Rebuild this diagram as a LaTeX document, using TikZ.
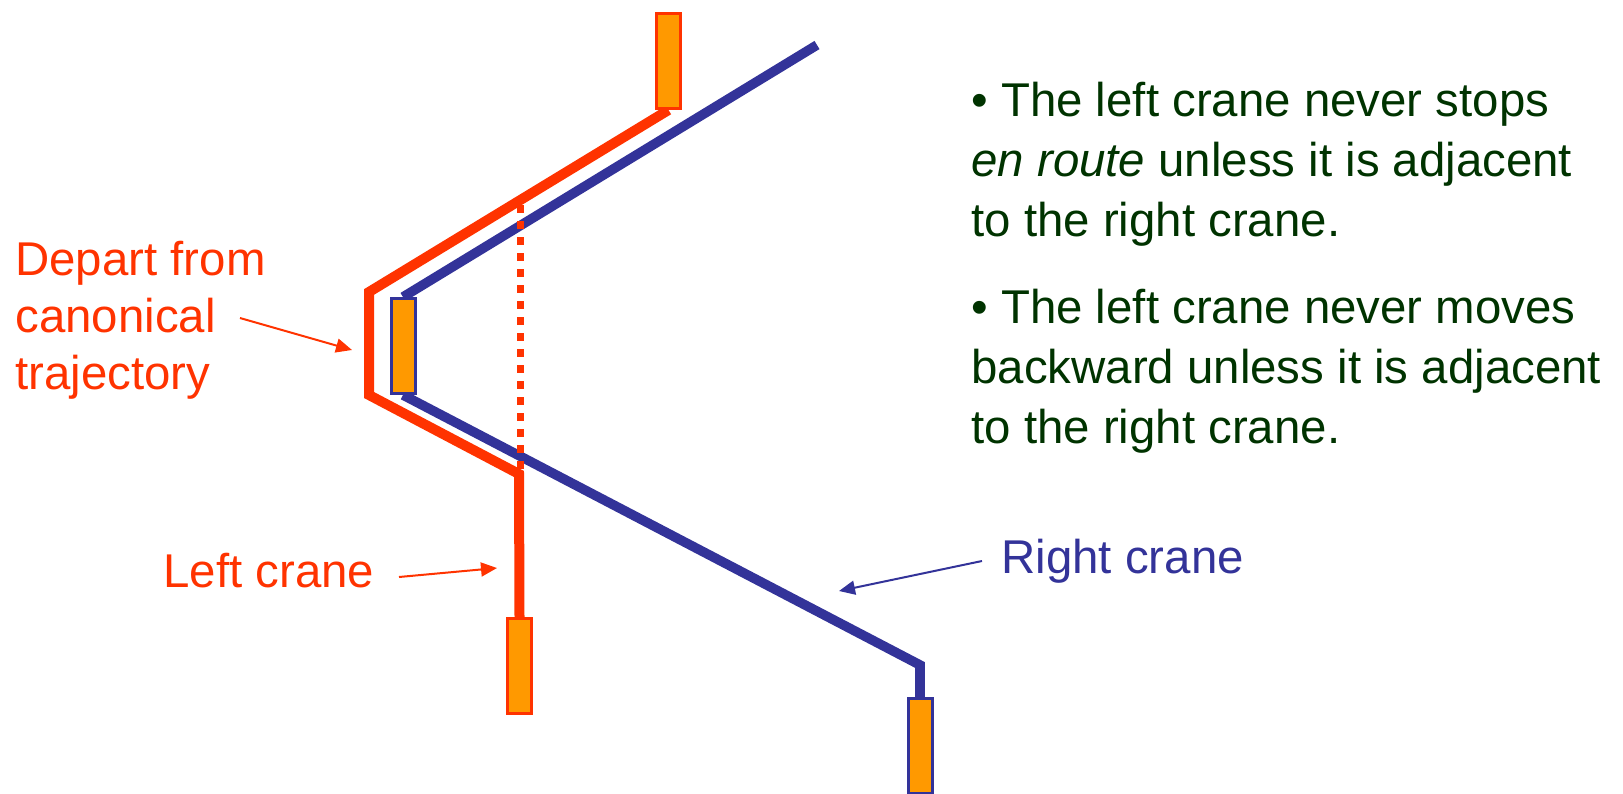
\documentclass[tikz,border=0pt]{standalone}
\usepackage{fontspec}
\setmainfont{Liberation Sans}
\usepackage{tikz}
\usepackage{xcolor}
\usetikzlibrary{arrows.meta, positioning, calc}
\definecolor{CraneRed}{HTML}{FF3300}
\definecolor{CraneBlue}{HTML}{333399}
\definecolor{CraneOrange}{HTML}{FF9900}
\definecolor{RuleGreen}{HTML}{003300}
\tikzset{
    % Trolley boxes - orange with coloured outline
    redtrolley/.style={
        rectangle,
        draw=CraneRed,
        fill=CraneOrange,
        line width=1.5pt,
        minimum width=12pt,
        minimum height=47.5pt,
        inner sep=0pt
    },
    bluetrolley/.style={
        redtrolley,
        draw=CraneBlue
    },
    % Trajectory styles
    redpath/.style={
        draw=CraneRed,
        line width=5pt
    },
    bluepath/.style={
        draw=CraneBlue,
        line width=4.8pt
    },
    gapline/.style={
        draw=CraneRed,
        line width=3.5pt,
        dash pattern=on 4pt off 4pt
    },
    % Label arrows
    redptr/.style={
        -{Triangle[length=8pt,width=7pt]},
        CraneRed,
        line width=1pt
    },
    blueptr/.style={
        -{Triangle[length=8pt,width=7pt]},
        CraneBlue,
        line width=1pt
    },
    % Text styles
    labeltext/.style={
        inner sep=0pt,
        align=left,
        font=\fontsize{23.7}{28.5}\selectfont
    },
    ruletext/.style={
        labeltext,
        text=RuleGreen,
        font=\fontsize{23.7}{30}\selectfont
    }
}
\begin{document}
\begin{tikzpicture}[x=0.5pt, y=-0.5pt]
                \useasboundingbox (0,0) rectangle (1623,793);

                % Bend points of both trajectories
                \coordinate (lc-b1) at (369,292);
                \coordinate (lc-b2) at (369,395);
                \coordinate (lc-b3) at (519,474);
                \coordinate (rc-start) at (817,45);
                \coordinate (rc-b1) at (920,665);
                \coordinate (gap-top) at (520,205);
                \coordinate (gap-bot) at (520,471);

                % Trolleys
                \node[redtrolley] (lc-top) at (668.5,61) {};
                \node[bluetrolley] (rc-mid) at (403,346) {};
                \node[redtrolley] (lc-bot) at (519.5,666) {};
                \node[bluetrolley] (rc-bot) at (920,746) {};

                % Trajectories
                \draw[bluepath] (rc-start) -- (rc-mid.north);
                \draw[bluepath] (rc-mid.south) -- (rc-b1) -- (rc-bot.north);
                \draw[redpath] (lc-top.south) -- (lc-b1) -- (lc-b2) -- (lc-b3) -- (lc-bot.north);
                \draw[gapline] (gap-top) -- (gap-bot);

                % Redraw trolleys on top
                \node[redtrolley] at (lc-top) {};
                \node[bluetrolley] at (rc-mid) {};
                \node[redtrolley] at (lc-bot) {};
                \node[bluetrolley] at (rc-bot) {};

                % Labels
                \node[labeltext,text=CraneRed,anchor=north west] (dep) at (15,241) {Depart from\\canonical\\trajectory};
                \node[labeltext,text=CraneRed,anchor=base west] (leftlbl) at (163,587) {Left crane};
                \node[labeltext,text=CraneBlue,anchor=base west] (rightlbl) at (1001,573) {Right crane};

                \coordinate (dep-tail) at (240,318);
                \coordinate (dep-tip) at (352,350);
                \coordinate (lc-tail) at (399,577);
                \coordinate (lc-tip) at (497,568);
                \coordinate (rc-tail) at (982,561);
                \coordinate (rc-tip) at (839,591);

                \draw[redptr] (dep-tail) -- (dep-tip);
                \draw[redptr] (lc-tail) -- (lc-tip);
                \draw[blueptr] (rc-tail) -- (rc-tip);

                % Rules
                \node[ruletext,anchor=north west] (rule1) at (971,82) {\textbullet{} The left crane never stops\\\textit{en route} unless it is adjacent\\to the right crane.};
                \node[ruletext,anchor=north west] (rule2) at (971,289) {\textbullet{} The left crane never moves\\backward unless it is adjacent\\to the right crane.};
            \end{tikzpicture}
\end{document}
